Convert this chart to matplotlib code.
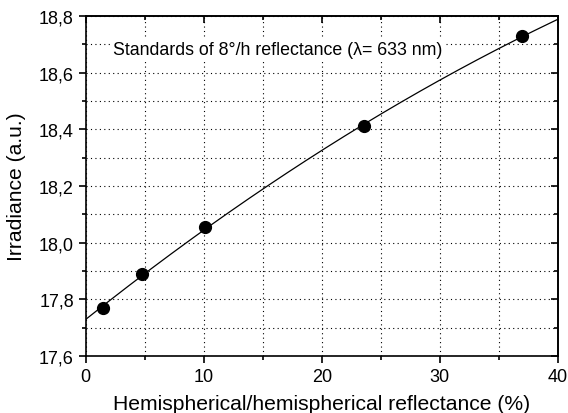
import numpy as np
import matplotlib
matplotlib.use("Agg")
import matplotlib.pyplot as plt
from matplotlib.ticker import MultipleLocator, FuncFormatter

plt.rcParams["font.family"] = ["Liberation Sans", "DejaVu Sans"]

# measured standards
reflectance = np.array([1.5, 4.8, 10.1, 23.6, 37.0])
irradiance = np.array([17.77, 17.89, 18.055, 18.41, 18.73])

# quadratic calibration fit through the standards
coef = np.polyfit(reflectance, irradiance, 2)
x_fit = np.linspace(0, 40, 200)
y_fit = np.polyval(coef, x_fit)

fig = plt.figure(figsize=(5.68, 4.14), dpi=100)
ax = fig.add_axes([0.151, 0.138, 0.831, 0.821])

ax.plot(x_fit, y_fit, color="black", linewidth=0.9)
ax.plot(reflectance, irradiance, "o", color="black", markersize=8.5)

ax.set_xlim(0, 40)
ax.set_ylim(17.6, 18.8)
ax.xaxis.set_major_locator(MultipleLocator(10))
ax.xaxis.set_minor_locator(MultipleLocator(5))
ax.yaxis.set_major_locator(MultipleLocator(0.2))
ax.yaxis.set_minor_locator(MultipleLocator(0.1))
ax.yaxis.set_major_formatter(FuncFormatter(lambda v, p: f"{v:.1f}".replace(".", ",")))

ax.grid(True, which="both", linestyle=(0, (1, 3)), color="black", linewidth=0.8)
ax.tick_params(which="both", direction="out", width=1.2, labelsize=13)
ax.tick_params(which="major", length=5)
ax.tick_params(which="minor", length=3)
for s in ax.spines.values():
    s.set_linewidth(1.2)

# inward ticks on the top and right frame
top = ax.secondary_xaxis("top")
top.xaxis.set_major_locator(MultipleLocator(10))
top.xaxis.set_minor_locator(MultipleLocator(5))
top.tick_params(which="both", direction="in", width=1.2, labeltop=False)
top.tick_params(which="major", length=5)
top.tick_params(which="minor", length=3)
right = ax.secondary_yaxis("right")
right.yaxis.set_major_locator(MultipleLocator(0.2))
right.yaxis.set_minor_locator(MultipleLocator(0.1))
right.tick_params(which="both", direction="in", width=1.2, labelright=False)
right.tick_params(which="major", length=5)
right.tick_params(which="minor", length=3)
top.spines["top"].set_linewidth(1.2)
right.spines["right"].set_linewidth(1.2)

ax.set_xlabel("Hemispherical/hemispherical reflectance (%)", fontsize=15.2, labelpad=7)
ax.set_ylabel("Irradiance (a.u.)", fontsize=15.2, labelpad=9)

ax.text(0.057, 0.9, "Standards of 8°/h reflectance (λ= 633 nm)",
        transform=ax.transAxes, fontsize=12.8, va="center",
        bbox=dict(facecolor="white", edgecolor="none", pad=2))

fig.savefig("out.png", dpi=100)
